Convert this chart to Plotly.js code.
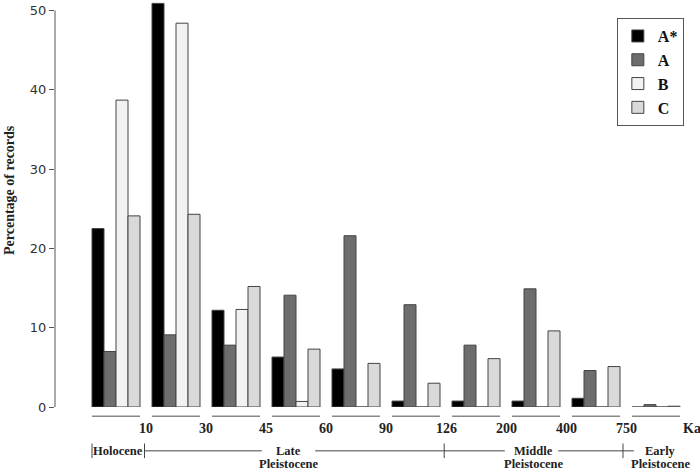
<!DOCTYPE html>
<html>
<head>
<meta charset="utf-8">
<script src="https://cdn.plot.ly/plotly-3.0.1.min.js"></script>
<style>html,body{margin:0;padding:0;background:#fff;}#chart{width:700px;height:470px;}</style>
</head>
<body>
<div id="chart"></div>
<script>
// Age bins (ka) and series values (percentage of records)
const groups = ['0–10', '10–30', '30–45', '45–60', '60–90', '90–126', '126–200', '200–400', '400–750', '>750'];
const boundaryLabels = ['10', '30', '45', '60', '90', '126', '200', '400', '750'];
const unitLabel = 'Ka';
const seriesNames = ['A*', 'A', 'B', 'C'];
const valsAstar = [22.5, 50.9, 12.2, 6.3, 4.8, 0.75, 0.75, 0.75, 1.1, 0];
const valsA = [7.0, 9.1, 7.8, 14.1, 21.6, 12.9, 7.8, 14.9, 4.6, 0.3];
const valsB = [38.7, 48.4, 12.3, 0.7, 0, 0, 0, 0, 0, 0];
const valsC = [24.1, 24.3, 15.2, 7.3, 5.5, 3.0, 6.1, 9.6, 5.1, 0.1];
const yTicks = [0, 10, 20, 30, 40, 50];
const yTitle = 'Percentage of records';

const colors = ['#000000', '#6d6d6d', '#f2f2f2', '#d9d9d9'];
const seriesVals = [valsAstar, valsA, valsB, valsC];

const traces = seriesNames.map((name, k) => ({
  type: 'bar',
  name: name,
  x: groups,
  y: seriesVals[k],
  marker: {color: colors[k], line: {color: '#444', width: 1}},
  hoverinfo: 'x+y+name'
}));

const serif = 'Liberation Serif, Times New Roman, serif';
const textColor = '#222';
const shapes = [];
const annotations = [];

// y axis line only from first to last tick (R style)
shapes.push({type: 'line', xref: 'paper', yref: 'y', x0: 0, x1: 0, y0: yTicks[0], y1: yTicks[yTicks.length - 1],
  line: {color: '#555', width: 1}});

// y axis title
annotations.push({xref: 'paper', yref: 'paper', x: -0.0706, y: 0.5345, text: yTitle, textangle: -90, showarrow: false,
  xanchor: 'center', yanchor: 'middle', font: {family: serif, size: 14, color: textColor, weight: 'bold'}});

// grey segment under each group
groups.forEach((g, i) => {
  shapes.push({type: 'line', xref: 'x', yref: 'paper', x0: i - 0.4, x1: i + 0.4, y0: -0.0227, y1: -0.0227,
    line: {color: '#888', width: 1.5}});
});
// boundary labels between groups
boundaryLabels.forEach((t, i) => {
  annotations.push({xref: 'x', yref: 'paper', x: i + 0.5, y: -0.053, text: t, showarrow: false,
    xanchor: 'center', yanchor: 'middle', font: {family: serif, size: 14, color: textColor, weight: 'bold'}});
});
annotations.push({xref: 'paper', yref: 'paper', x: 1.0, y: -0.053, text: unitLabel, showarrow: false,
  xanchor: 'center', yanchor: 'middle', font: {family: serif, size: 14, color: textColor, weight: 'bold'}});

// geological periods row
const pY = -0.108, pY2 = -0.141;
const periodFont = {family: serif, size: 12.5, color: textColor, weight: 'bold'};
annotations.push({xref: 'x', yref: 'paper', x: 0.04, y: pY, text: 'Holocene', showarrow: false, xanchor: 'center', yanchor: 'middle', font: periodFont});
annotations.push({xref: 'x', yref: 'paper', x: 2.87, y: pY, text: 'Late', showarrow: false, xanchor: 'center', yanchor: 'middle', font: periodFont});
annotations.push({xref: 'x', yref: 'paper', x: 2.87, y: pY2, text: 'Pleistocene', showarrow: false, xanchor: 'center', yanchor: 'middle', font: periodFont});
annotations.push({xref: 'x', yref: 'paper', x: 6.95, y: pY, text: 'Middle', showarrow: false, xanchor: 'center', yanchor: 'middle', font: periodFont});
annotations.push({xref: 'x', yref: 'paper', x: 6.95, y: pY2, text: 'Pleistocene', showarrow: false, xanchor: 'center', yanchor: 'middle', font: periodFont});
annotations.push({xref: 'x', yref: 'paper', x: 9.07, y: pY, text: 'Early', showarrow: false, xanchor: 'center', yanchor: 'middle', font: periodFont});
annotations.push({xref: 'x', yref: 'paper', x: 9.07, y: pY2, text: 'Pleistocene', showarrow: false, xanchor: 'center', yanchor: 'middle', font: periodFont});

const lineStyle = {color: '#444', width: 1};
[[0.48, 2.43], [3.32, 6.48], [7.37, 8.63]].forEach(s => {
  shapes.push({type: 'line', xref: 'x', yref: 'paper', x0: s[0], x1: s[1], y0: pY, y1: pY, line: lineStyle});
});
[-0.4, 0.475, 5.47, 8.45].forEach(x => {
  shapes.push({type: 'line', xref: 'x', yref: 'paper', x0: x, x1: x, y0: pY + 0.018, y1: pY - 0.018, line: lineStyle});
});

const layout = {
  width: 700, height: 470,
  margin: {l: 55, r: 8, t: 1, b: 63},
  paper_bgcolor: '#fff', plot_bgcolor: '#fff',
  barmode: 'group', bargap: 0.2, bargroupgap: 0,
  showlegend: true,
  legend: {x: 0.882, y: 0.958, xanchor: 'left', yanchor: 'top', bordercolor: '#555', borderwidth: 1,
    bgcolor: '#fff', font: {family: serif, size: 16, color: '#111', weight: 'bold'}, itemwidth: 30},
  xaxis: {type: 'category', range: [-1.0167, 9.6], showticklabels: false, showline: false, ticks: '',
    showgrid: false, zeroline: false, fixedrange: true},
  yaxis: {range: [0, 51.2], tickvals: yTicks, ticks: 'outside', ticklen: 5, tickcolor: '#555',
    showline: false, showgrid: false, zeroline: false,
    tickfont: {family: 'DejaVu Sans, sans-serif', size: 13, color: '#333'}},
  shapes: shapes,
  annotations: annotations
};

Plotly.newPlot('chart', traces, layout, {staticPlot: true});
</script>
</body>
</html>
